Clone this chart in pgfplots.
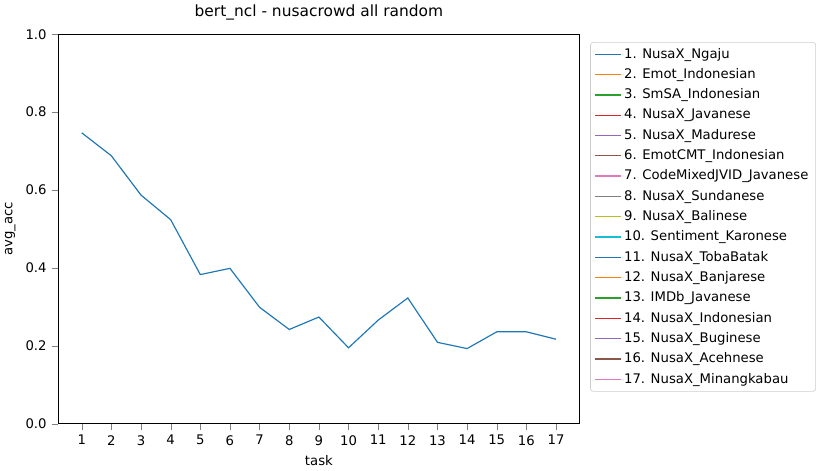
\documentclass[border=0pt]{standalone}
\usepackage{fontspec}
\setmainfont{DejaVu Sans}
\usepackage{pgfplots}
\pgfplotsset{compat=1.18}
\definecolor{c0}{HTML}{1F77B4}\definecolor{c1}{HTML}{FF7F0E}\definecolor{c2}{HTML}{2CA02C}
\definecolor{c3}{HTML}{D62728}\definecolor{c4}{HTML}{9467BD}\definecolor{c5}{HTML}{8C564B}
\definecolor{c6}{HTML}{E377C2}\definecolor{c7}{HTML}{7F7F7F}\definecolor{c8}{HTML}{BCBD22}
\definecolor{c9}{HTML}{17BECF}
\begin{document}
\begin{tikzpicture}
\begin{axis}[
 scale only axis, width=355pt, height=265pt,
 xmin=0.2, xmax=17.8, ymin=0, ymax=1,
 xtick={1,...,17}, ytick={0,0.2,0.4,0.6,0.8,1.0},
 yticklabel style={/pgf/number format/fixed,/pgf/number format/fixed zerofill,/pgf/number format/precision=1},
 /pgf/number format/assume math mode=true,
 tick label style={font=\fontsize{9}{10}\selectfont},
 label style={font=\fontsize{9}{10}\selectfont},
 xlabel={task}, ylabel={avg\_acc},
 title={bert\_ncl - nusacrowd all random},
 title style={font=\fontsize{10.5}{12}\selectfont},
 tick align=outside, tick pos=left,
 legend style={at={(1.02,0.98)}, anchor=north west, font=\fontsize{9}{10}\selectfont, draw=black!20, rounded corners=2pt, row sep=1.5pt},
 legend cell align=left,
]
\addlegendimage{c0,thick}
\addlegendimage{c1,thick}
\addlegendimage{c2,thick}
\addlegendimage{c3,thick}
\addlegendimage{c4,thick}
\addlegendimage{c5,thick}
\addlegendimage{c6,thick}
\addlegendimage{c7,thick}
\addlegendimage{c8,thick}
\addlegendimage{c9,thick}
\addlegendimage{c0,thick}
\addlegendimage{c1,thick}
\addlegendimage{c2,thick}
\addlegendimage{c3,thick}
\addlegendimage{c4,thick}
\addlegendimage{c5,thick}
\addlegendimage{c6,thick}
\addplot[c0, thick, forget plot] coordinates {(1,0.747)(2,0.688)(3,0.587)(4,0.524)(5,0.383)(6,0.399)(7,0.299)(8,0.242)(9,0.274)(10,0.195)(11,0.266)(12,0.323)(13,0.209)(14,0.193)(15,0.236)(16,0.236)(17,0.217)};
\legend{1. NusaX\_Ngaju,2. Emot\_Indonesian,3. SmSA\_Indonesian,4. NusaX\_Javanese,5. NusaX\_Madurese,6. EmotCMT\_Indonesian,7. CodeMixedJVID\_Javanese,8. NusaX\_Sundanese,9. NusaX\_Balinese,10. Sentiment\_Karonese,11. NusaX\_TobaBatak,12. NusaX\_Banjarese,13. IMDb\_Javanese,14. NusaX\_Indonesian,15. NusaX\_Buginese,16. NusaX\_Acehnese,17. NusaX\_Minangkabau}
\end{axis}
\end{tikzpicture}
\end{document}
